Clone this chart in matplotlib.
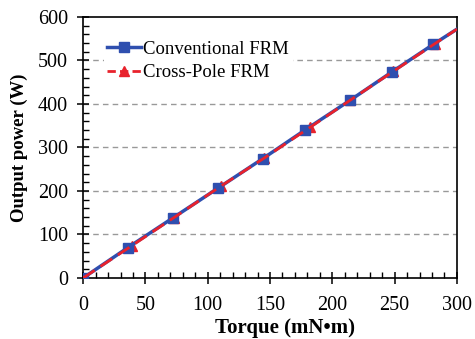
import numpy as np
import matplotlib.pyplot as plt
from matplotlib.ticker import MultipleLocator

# data
conv_torque = [0, 36, 72, 108, 144, 178, 214, 248, 281, 300]
conv_power = [0, 70, 138, 206, 274, 340, 408, 474, 537, 572]

cp_torque = [0, 39, 73, 111, 145, 182, 214, 249, 282, 300]
cp_power = [0, 74, 139, 212, 275, 346, 408, 475, 538, 572]

blue = "#2F4FAF"
red = "#E8222C"

plt.rcParams["font.family"] = ["Liberation Serif", "DejaVu Serif"]

fig = plt.figure(figsize=(4.75, 3.39), dpi=100)
ax = fig.add_axes([0.175, 0.18, 0.787, 0.77])

# markers: last point (axis edge) has no marker
n = len(conv_torque) - 1
ax.plot(cp_torque[:n], cp_power[:n], linestyle="none", marker="^",
        color=red, markersize=7, zorder=2)
ax.plot(conv_torque, conv_power, color=blue, lw=2.5, marker="s",
        markersize=7, markevery=list(range(n)), zorder=3)
ax.plot(cp_torque, cp_power, color=red, lw=2.0, dashes=(5, 2.5), zorder=4)

# legend proxies
ax.plot([], [], color=blue, lw=2.5, marker="s", markersize=7,
        label="Conventional FRM")
ax.plot([], [], color=red, lw=2.0, dashes=(3, 1.5), marker="^",
        markersize=7, label="Cross-Pole FRM")
h, l = ax.get_legend_handles_labels()
leg = ax.legend(h[-2:], l[-2:], loc="upper left", bbox_to_anchor=(0.03, 0.96),
                frameon=True, edgecolor="none", facecolor="white",
                framealpha=1, fontsize=13.5, handlelength=1.8,
                handletextpad=0.1, labelspacing=0.35, borderpad=0.2)
leg.set_zorder(5)

ax.set_xlim(0, 300)
ax.set_ylim(0, 600)
ax.xaxis.set_major_locator(MultipleLocator(50))
ax.xaxis.set_minor_locator(MultipleLocator(10))
ax.yaxis.set_major_locator(MultipleLocator(100))
ax.yaxis.set_minor_locator(MultipleLocator(20))
ax.tick_params(which="major", direction="inout", length=8, width=1.1,
               labelsize=14.5)
ax.tick_params(axis="x", which="major", pad=9)
ax.tick_params(axis="y", which="major", pad=7)
ax.tick_params(which="minor", direction="in", length=4, width=1.0)

for yv in range(100, 600, 100):
    ax.axhline(yv, color="#999999", lw=1.0, dashes=(4, 3), zorder=1)

for s in ax.spines.values():
    s.set_linewidth(1.2)

ax.set_xlabel("Torque (mN\u2022m)", fontsize=15, fontweight="bold")
ax.xaxis.set_label_coords(0.54, -0.155)
ax.set_ylabel("Output power (W)", fontsize=13.5, fontweight="bold", labelpad=7)

fig.savefig("out.png", dpi=100)
